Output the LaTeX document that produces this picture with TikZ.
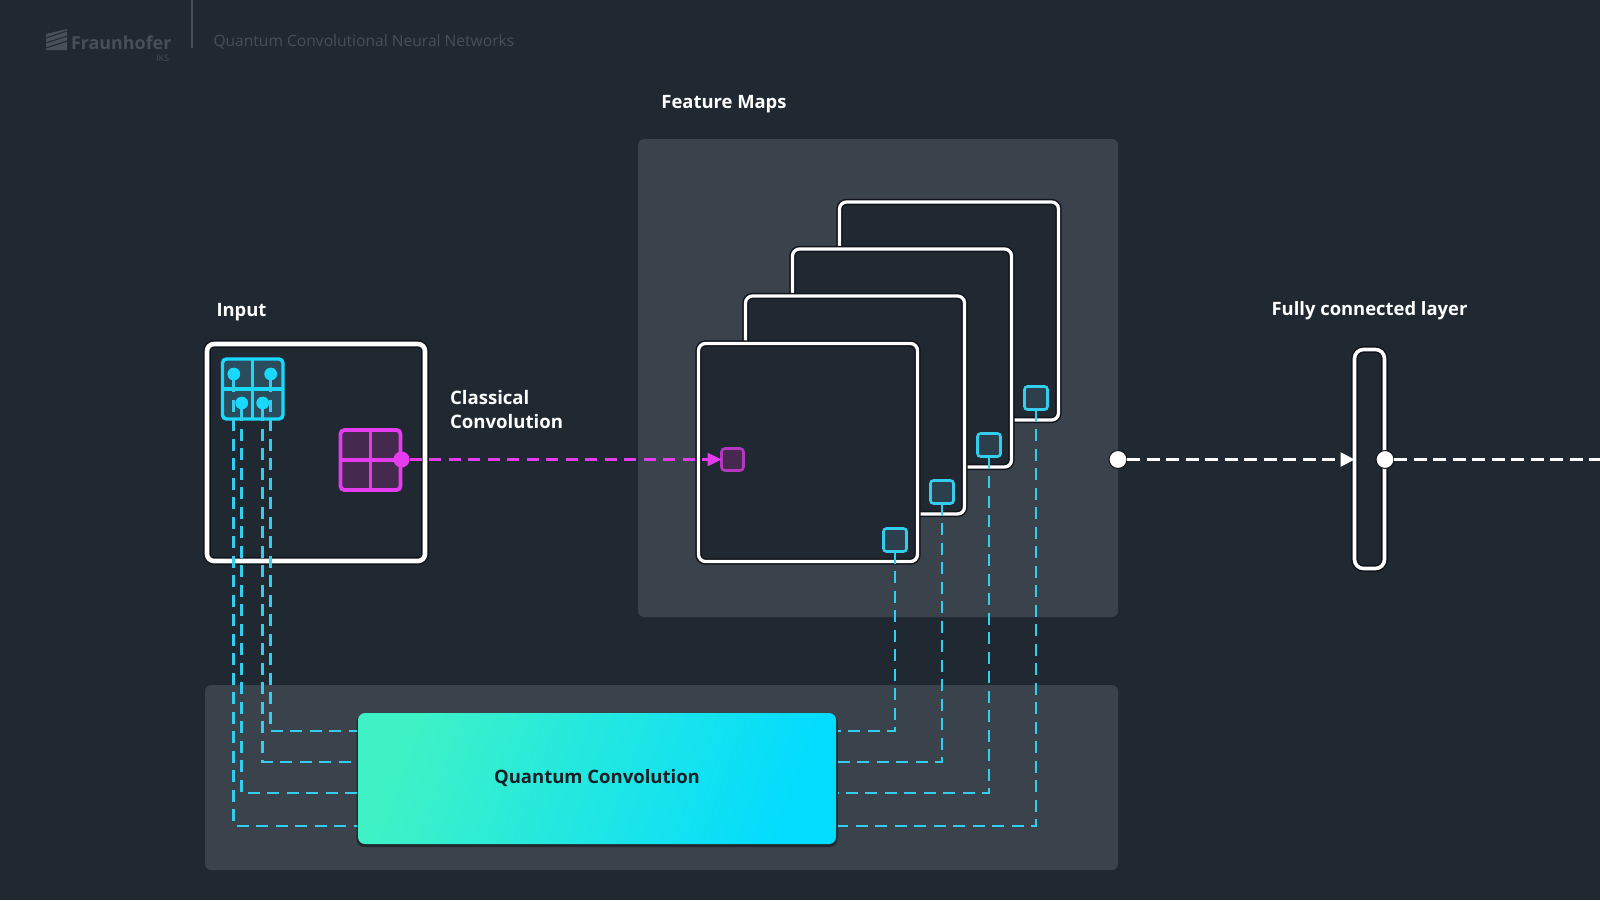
\documentclass[tikz,border=0pt]{standalone}
\usepackage{fontspec}
\setmainfont{Open Sans}
\usetikzlibrary{arrows.meta,calc}
\definecolor{bgc}{HTML}{202932}
\definecolor{panelc}{HTML}{3A424C}
\definecolor{haloc}{HTML}{10141A}
\definecolor{tealc}{HTML}{19D9FF}
\definecolor{teald}{HTML}{35CDEE}
\definecolor{tealf}{HTML}{2A4D5E}
\definecolor{tealg}{HTML}{2B3F4C}
\definecolor{magc}{HTML}{E63CF0}
\definecolor{magf}{HTML}{45294F}
\definecolor{greyc}{HTML}{474F59}
\definecolor{qcl}{HTML}{3EF2C6}
\definecolor{qcr}{HTML}{03DCFF}
\tikzset{
  panel/.style={rectangle,fill=panelc,rounded corners=6pt,inner sep=0pt,outer sep=0pt},
  framebox/.style={rectangle,rounded corners=7pt,inner sep=0pt,outer sep=0pt,draw=white,
    preaction={fill=bgc},preaction={draw=haloc,line width=#1+3pt},line width=#1},
  framebox/.default=3pt,
  teald line/.style={draw=teald,line width=2.7pt,dash pattern=on 12pt off 7.5pt},
  mag line/.style={draw=magc,line width=2.4pt,dash pattern=on 12pt off 7.5pt},
  white line/.style={draw=white,line width=2.6pt,dash pattern=on 13pt off 6.5pt},
  small teal/.style={rectangle,minimum size=23pt,rounded corners=3pt,draw=teald,fill=tealg,line width=2.6pt,inner sep=0pt,outer sep=0pt},
  pin/.style={circle,fill=tealc,minimum size=12.5pt,inner sep=0pt,outer sep=0pt},
  wdot/.style={circle,fill=white,draw=haloc,line width=1pt,minimum size=18pt,inner sep=0pt,outer sep=0pt},
  heading/.style={font=\bfseries\fontsize{18.4}{23}\selectfont,text=white,inner sep=0pt,outer sep=0pt},
  greytext/.style={text=greyc,inner sep=0pt,outer sep=0pt},
}
\begin{document}
\begin{tikzpicture}[x=1pt,y=-1pt]
\useasboundingbox[fill=bgc] (0,0) rectangle (1600,900);

% header
\coordinate (septop) at (192,0);
\coordinate (sepbot) at (192,48);
\draw[greyc,line width=1.5pt] (septop) -- (sepbot);
\begin{scope}
\clip (46,29) rectangle (67,50);
\fill[greyc] (46,50) -- (46,34) -- (67,29) -- (67,50) -- cycle;
\draw[bgc,line width=1pt] (46,38) -- (67,31) (46,43) -- (67,36) (46,48) -- (67,41);
\end{scope}
\node[greytext,anchor=base west,font=\bfseries\fontsize{17.9}{21}\selectfont] (logo) at (71,49) {Fraunhofer};
\node[greytext,anchor=base east,font=\fontsize{9}{10}\selectfont] (iks) at (169,61.5) {IKS};
\node[greytext,anchor=base west,font=\fontsize{15.6}{19}\selectfont] (title) at (213.5,46) {Quantum Convolutional Neural Networks};

% panels
\node[panel,minimum width=480pt,minimum height=478pt] (fmpanel) at (878,378) {};
\node[panel,minimum width=913pt,minimum height=185pt] (qpanel) at (661.5,777.5) {};

% labels
\node[heading,anchor=base] (fmlabel) at (724,108.5) {Feature Maps};
\node[heading,anchor=base west] (inlabel) at (216.5,316.5) {Input};
\node[heading,anchor=west,align=left,font=\bfseries\fontsize{18.6}{23.5}\selectfont] (cllabel) at (450,409.5) {Classical\\Convolution};
\node[heading,anchor=base] (fclabel) at (1369.5,315) {Fully connected layer};

% feature maps
\node[framebox=3.3pt,minimum width=219pt,minimum height=218pt] (f4) at (949,311) {};
\node[framebox=3.3pt,minimum width=219pt,minimum height=218pt] (f3) at (902,358) {};
\node[framebox=3.3pt,minimum width=219pt,minimum height=218pt] (f2) at (855,405) {};
\node[framebox=3.3pt,minimum width=219pt,minimum height=218pt] (f1) at (808,452.5) {};

% input
\node[framebox=4.6pt,minimum width=218pt,minimum height=217pt] (inp) at (316,452.5) {};

% teal icon
\node[rectangle,rounded corners=4pt,draw=tealc,fill=tealf,line width=3.4pt,minimum width=60.5pt,minimum height=60pt,inner sep=0pt,outer sep=0pt] (tgrid) at (252.7,389) {};
\draw[tealc,line width=3.4pt] (tgrid.north) -- (tgrid.south) (tgrid.west) -- (tgrid.east);
\node[pin] (p1) at (233.8,374) {};
\node[pin] (p2) at (241.7,403) {};
\node[pin] (p3) at (262.7,403) {};
\node[pin] (p4) at (270.7,374) {};

% magenta icon
\node[rectangle,rounded corners=4pt,draw=magc,fill=magf,line width=3.8pt,minimum width=60pt,minimum height=60pt,inner sep=0pt,outer sep=0pt] (mgrid) at (370.5,460) {};
\draw[magc,line width=3.8pt] (mgrid.north) -- (mgrid.south) (mgrid.west) -- (mgrid.east);
\node[circle,fill=magc,minimum size=16pt,inner sep=0pt,outer sep=0pt] (mdot) at (401.5,459.5) {};

% small squares
\node[small teal] (s1) at (895,540) {};
\node[small teal] (s2) at (942,492) {};
\node[small teal] (s3) at (989,445) {};
\node[small teal] (s4) at (1036,398) {};
\node[rectangle,minimum size=22pt,rounded corners=3.5pt,draw=magc!75!bgc,fill=magf,line width=2.6pt,inner sep=0pt,outer sep=0pt] (msq) at (732.5,459.5) {};

% quantum convolution box shadow
\node[rectangle,rounded corners=8pt,minimum width=481pt,minimum height=133pt,inner sep=0pt,outer sep=0pt,
  fill=black,opacity=0.4] (qshadow) at (597,780.5) {};
% connectors, input side
\draw[teald line] (p1) |- (qshadow.west |- 0,826);
\draw[teald line] (p2) |- (qshadow.west |- 0,793);
\draw[teald line] (p3) |- (qshadow.west |- 0,762);
\draw[teald line] (p4) |- (qshadow.west |- 0,731);
% connectors, output side
\draw[teald line] (s1.south) |- (qshadow.east |- 0,731);
\draw[teald line] (s2.south) |- (qshadow.east |- 0,762);
\draw[teald line] (s3.south) |- (qshadow.east |- 0,793);
\draw[teald line] (s4.south) |- (qshadow.east |- 0,826);
% repaint the icons' pins
\node[pin] at (p1) {}; \node[pin] at (p2) {}; \node[pin] at (p3) {}; \node[pin] at (p4) {};

\node[rectangle,rounded corners=7pt,minimum width=478pt,minimum height=131pt,inner sep=0pt,outer sep=0pt,
  left color=qcl,right color=qcr,shading angle=70,
  font=\bfseries\fontsize{18.5}{23}\selectfont,text=bgc!75!black] (qc) at (597,778.5) {\raisebox{-3pt}{Quantum Convolution}};

% classical convolution connector
\draw[mag line,-{Triangle[length=14pt,width=13pt,fill=magc]},shorten >=0pt] (mdot) -- (msq.west);

% fully connected
\node[framebox=3.6pt,minimum width=30pt,minimum height=219pt,rounded corners=9pt] (fc) at (1369.5,459) {};
\node[wdot] (d1) at (1118,459.5) {};
\node[wdot] (d2) at (1385,459.5) {};
\coordinate (fcend) at (1600,459.5);
\draw[white line,-{Triangle[length=14pt,width=14pt,fill=white]}] (d1) -- (d1 -| fc.west);
\draw[white line] (d2) -- (fcend);
\end{tikzpicture}
\end{document}
